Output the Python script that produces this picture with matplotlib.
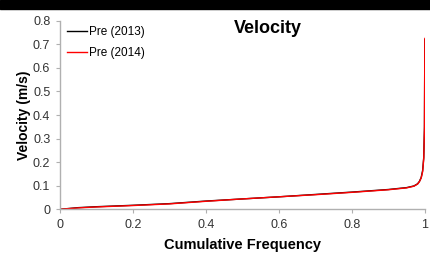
import matplotlib
matplotlib.use("Agg")
import matplotlib.pyplot as plt
from matplotlib.patches import Rectangle
from matplotlib.ticker import FuncFormatter

plt.rcParams["font.family"] = ["Liberation Sans", "DejaVu Sans"]

# cumulative frequency vs velocity
freq_2013 = [0.0, 0.05, 0.1, 0.2, 0.3, 0.4, 0.5, 0.6, 0.7, 0.8, 0.9, 0.95, 0.97,
             0.98, 0.985, 0.99, 0.994, 0.997, 0.999, 1.0]
vel_2013 = [0.0, 0.007, 0.011, 0.017, 0.024, 0.035, 0.044, 0.053, 0.063, 0.073,
            0.084, 0.092, 0.099, 0.108, 0.118, 0.135, 0.165, 0.22, 0.35, 0.72]
freq_2014 = [0.0, 0.05, 0.1, 0.2, 0.3, 0.4, 0.5, 0.6, 0.7, 0.8, 0.9, 0.95, 0.97,
             0.98, 0.985, 0.99, 0.994, 0.997, 0.999, 1.0]
vel_2014 = [0.0, 0.006, 0.010, 0.016, 0.023, 0.034, 0.044, 0.053, 0.062, 0.072,
            0.083, 0.091, 0.098, 0.107, 0.117, 0.133, 0.16, 0.215, 0.34, 0.725]

x_ticks = [0, 0.2, 0.4, 0.6, 0.8, 1.0]
y_ticks = [0, 0.1, 0.2, 0.3, 0.4, 0.5, 0.6, 0.7, 0.8]

fig = plt.figure(figsize=(4.3, 2.6), dpi=100)
fig.patches.append(Rectangle((0, 0.967), 1, 0.033, transform=fig.transFigure,
                             color="black", zorder=10))
ax = fig.add_axes([0.1395, 0.195, 0.8485, 0.725])

ax.plot(freq_2013, vel_2013, color="black", linewidth=1.0, label="Pre (2013)")
ax.plot(freq_2014, vel_2014, color="red", linewidth=1.0, label="Pre (2014)")

ax.set_xlim(0, 1)
ax.set_ylim(0, 0.8)
ax.set_xticks(x_ticks)
ax.set_yticks(y_ticks)
fmt = FuncFormatter(lambda v, p: "0" if v == 0 else ("1" if v == 1 else f"{v:.1f}"))
ax.xaxis.set_major_formatter(fmt)
ax.yaxis.set_major_formatter(fmt)

for side in ["top", "right"]:
    ax.spines[side].set_visible(False)
for side in ["left", "bottom"]:
    ax.spines[side].set_color("#b0b0b0")
    ax.spines[side].set_linewidth(1.0)
ax.tick_params(colors="#b0b0b0", labelcolor="#333333", labelsize=9,
               length=3, direction="out", pad=4)

ax.set_xlabel("Cumulative Frequency", fontsize=10.5, fontweight="bold", labelpad=5)
ax.set_ylabel("Velocity (m/s)", fontsize=10, fontweight="bold", labelpad=1)
fig.text(0.623, 0.89, "Velocity", fontsize=13, fontweight="bold",
         ha="center", va="center")

ax.legend(loc="upper left", bbox_to_anchor=(0.019, 0.97), frameon=False,
          borderaxespad=0, borderpad=0,
          fontsize=8.5, handlelength=1.7, handletextpad=0.15, labelspacing=0.7)

fig.savefig("out.png", dpi=100)
